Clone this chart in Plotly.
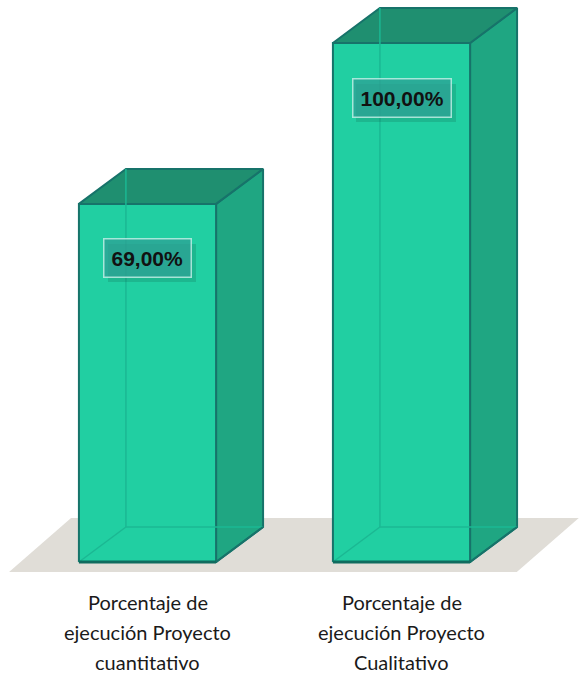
import plotly.graph_objects as go

# data
categories = ["Porcentaje de<br>ejecución Proyecto<br>cuantitativo",
              "Porcentaje de<br>ejecución Proyecto<br>Cualitativo"]
values = [69.0, 100.0]
value_labels = ["69,00%", "100,00%"]

# geometry (category units on x, percent units on y)
BAR_W = 0.54
DEPTH_X = 0.185
DEPTH_Y = 6.74
FLOOR = {"front": -1.93, "back": 8.48, "x0": -0.545, "x1": 1.454, "shift": 0.244}

FRONT = "#21CFA2"
TOP = "#1F8F70"
SIDE = "#1FA682"
EDGE = "#17736A"
HIDDEN = "#1BB893"
FLOOR_COLOR = "#E0DDD7"


def poly(fig, xs, ys, fill, line_color=EDGE, width=2):
    fig.add_trace(go.Scatter(
        x=xs + [xs[0]], y=ys + [ys[0]], mode="lines", fill="toself",
        fillcolor=fill, line=dict(color=line_color, width=width),
        hoverinfo="skip", showlegend=False))


def seg(fig, xs, ys, color, width=1.5):
    fig.add_trace(go.Scatter(
        x=xs, y=ys, mode="lines", line=dict(color=color, width=width),
        hoverinfo="skip", showlegend=False))


fig = go.Figure()

# floor
f = FLOOR
poly(fig,
     [f["x0"], f["x1"], f["x1"] + f["shift"], f["x0"] + f["shift"]],
     [f["front"], f["front"], f["back"], f["back"]],
     FLOOR_COLOR, line_color=FLOOR_COLOR, width=0)

for i, v in enumerate(values):
    xl = i - BAR_W / 2
    xr = i + BAR_W / 2
    # side face
    poly(fig, [xr, xr + DEPTH_X, xr + DEPTH_X, xr], [0, DEPTH_Y, v + DEPTH_Y, v], SIDE)
    # top face
    poly(fig, [xl, xl + DEPTH_X, xr + DEPTH_X, xr], [v, v + DEPTH_Y, v + DEPTH_Y, v], TOP)
    # front face
    poly(fig, [xl, xr, xr, xl], [0, 0, v, v], FRONT)
    # hidden edges seen through the faces
    seg(fig, [xl + DEPTH_X, xl + DEPTH_X], [DEPTH_Y, v + DEPTH_Y], HIDDEN)
    seg(fig, [xl + DEPTH_X, xr + DEPTH_X], [DEPTH_Y, DEPTH_Y], HIDDEN)
    seg(fig, [xl, xl + DEPTH_X], [0, DEPTH_Y], HIDDEN)
    seg(fig, [xr, xr + DEPTH_X], [0, DEPTH_Y], EDGE, 2)
    seg(fig, [xl, xr], [0, 0], "#0F6B5E", 3)

    # value label: soft shadow box, then the label itself
    box_w = 80 if len(value_labels[i]) < 7 else 92
    fig.add_annotation(
        x=i, y=v - 10.5, xshift=4, yshift=-5, text=" ", width=box_w, height=30,
        showarrow=False, bgcolor="rgba(10,80,60,0.18)", borderwidth=0, borderpad=4)
    fig.add_annotation(
        x=i, y=v - 10.5, text=f"<b>{value_labels[i]}</b>", showarrow=False,
        font=dict(family="Liberation Sans", size=21, color="#111111"),
        bgcolor="rgba(45,160,148,0.75)", bordercolor="rgba(200,240,232,0.8)",
        borderwidth=1.5, borderpad=7)

    # category label, one annotation per line
    for k, line in enumerate(categories[i].split("<br>")):
        fig.add_annotation(
            x=i, y=-7.8 - k * 5.7, text=line, showarrow=False, borderpad=0,
            font=dict(family="Lato", size=20, color="#1a1a1a"))

fig.update_xaxes(range=[-0.5807, 1.6988], visible=False, fixedrange=True)
fig.update_yaxes(range=[-21.39, 108.29], visible=False, fixedrange=True)
fig.update_layout(
    width=579, height=673,
    margin=dict(l=0, r=0, t=0, b=0),
    plot_bgcolor="white", paper_bgcolor="white",
    showlegend=False,
)

fig.write_html("out.html", config={"displayModeBar": False},
               post_script="document.body.style.margin='0';document.body.style.overflow='hidden';")
